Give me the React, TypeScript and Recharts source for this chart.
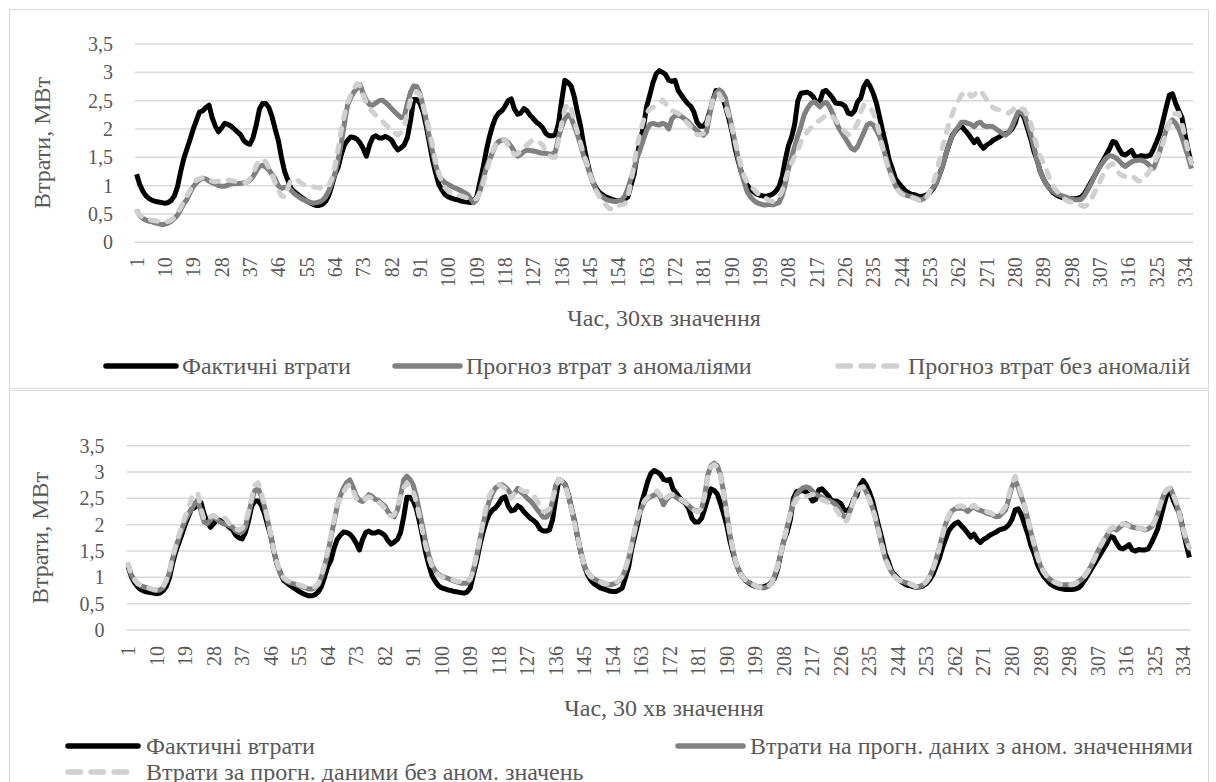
import React from 'react';
import { LineChart, Line, XAxis, YAxis, CartesianGrid } from 'recharts';

// ---------- data (MW losses, 30-minute slots) ----------
const actualLoss: number[] = [
  1.2, 1.02, 0.9, 0.82, 0.77, 0.74, 0.72, 0.71, 0.7, 0.69,
  0.7, 0.74, 0.82, 0.98, 1.25, 1.48, 1.65, 1.82, 2.0, 2.15,
  2.3, 2.32, 2.38, 2.42, 2.2, 2.05, 1.95, 2.02, 2.1, 2.08,
  2.05, 2.0, 1.95, 1.9, 1.8, 1.75, 1.73, 1.85, 2.07, 2.35,
  2.45, 2.45, 2.38, 2.22, 2.0, 1.8, 1.5, 1.25, 1.1, 0.95,
  0.9, 0.85, 0.81, 0.77, 0.73, 0.7, 0.67, 0.65, 0.65, 0.67,
  0.72, 0.82, 1.0, 1.2, 1.32, 1.55, 1.72, 1.8, 1.86, 1.85,
  1.82, 1.75, 1.65, 1.52, 1.72, 1.85, 1.88, 1.84, 1.84, 1.87,
  1.84, 1.8, 1.7, 1.63, 1.67, 1.72, 1.85, 2.15, 2.52, 2.52,
  2.45, 2.3, 2.05, 1.75, 1.45, 1.22, 1.02, 0.92, 0.84, 0.8,
  0.78, 0.76, 0.75, 0.73, 0.72, 0.71, 0.7, 0.72, 0.8, 1.05,
  1.3, 1.6, 1.85, 2.05, 2.2, 2.28, 2.32, 2.4, 2.5, 2.53,
  2.35, 2.26, 2.28, 2.36, 2.32, 2.24, 2.18, 2.12, 2.08, 2.02,
  1.92, 1.88, 1.88, 1.9, 2.1, 2.5, 2.86, 2.82, 2.76, 2.57,
  2.3, 2.05, 1.72, 1.45, 1.22, 1.05, 0.95, 0.88, 0.84, 0.8,
  0.78, 0.76, 0.74, 0.73, 0.73, 0.76, 0.8, 1.0, 1.2, 1.55,
  1.8, 2.05, 2.4, 2.6, 2.82, 2.97, 3.03, 3.0, 2.96, 2.86,
  2.84, 2.86, 2.68, 2.6, 2.52, 2.45, 2.4, 2.3, 2.12, 2.05,
  2.05, 2.12, 2.3, 2.5, 2.68, 2.65, 2.58, 2.4, 2.2, 1.98,
  1.68, 1.45, 1.25, 1.1, 1.0, 0.93, 0.89, 0.85, 0.83, 0.82,
  0.81, 0.83, 0.85, 0.9, 0.98, 1.15, 1.45, 1.7, 1.85, 2.08,
  2.5, 2.63, 2.64, 2.65, 2.62, 2.56, 2.45, 2.48, 2.66, 2.68,
  2.62, 2.55, 2.46, 2.45, 2.44, 2.4, 2.28, 2.26, 2.32, 2.48,
  2.55, 2.75, 2.84, 2.75, 2.62, 2.45, 2.2, 1.95, 1.72, 1.45,
  1.3, 1.12, 1.05, 0.98, 0.92, 0.88, 0.85, 0.84, 0.82, 0.81,
  0.82, 0.84, 0.88, 0.95, 1.05, 1.2, 1.35, 1.55, 1.72, 1.88,
  1.96, 2.02, 2.05, 1.98, 1.92, 1.84, 1.76, 1.82, 1.72, 1.66,
  1.72, 1.75, 1.8, 1.83, 1.86, 1.9, 1.92, 1.94, 2.0, 2.1,
  2.28, 2.3, 2.18, 2.0, 1.82, 1.6, 1.45, 1.25, 1.12, 1.02,
  0.95, 0.88, 0.84, 0.81, 0.79, 0.78, 0.77, 0.77, 0.77, 0.78,
  0.8, 0.86, 0.95, 1.05, 1.15, 1.25, 1.35, 1.45, 1.55, 1.65,
  1.78, 1.76, 1.65, 1.56, 1.54, 1.58, 1.62, 1.52, 1.5, 1.53,
  1.52, 1.52, 1.54, 1.65, 1.78, 1.92, 2.15, 2.38, 2.6, 2.62,
  2.45, 2.32, 2.2, 1.9, 1.62, 1.38,
];

const forecastWithAnomalies: number[] = [
  0.57, 0.47, 0.42, 0.39, 0.37, 0.36, 0.34, 0.33, 0.31, 0.32,
  0.34, 0.37, 0.42, 0.48, 0.58, 0.68, 0.76, 0.88, 0.98, 1.05,
  1.1, 1.13, 1.12, 1.08, 1.05, 1.03, 1.0, 0.99, 0.99, 1.01,
  1.03, 1.04, 1.04, 1.04, 1.05, 1.06, 1.1, 1.16, 1.26, 1.34,
  1.36, 1.33, 1.28, 1.2, 1.12, 1.0, 0.95, 0.97, 0.98, 0.92,
  0.86, 0.82, 0.78, 0.75, 0.73, 0.71, 0.69, 0.7, 0.71, 0.74,
  0.8, 0.9, 1.05, 1.22, 1.45, 1.75, 2.1, 2.42, 2.55, 2.65,
  2.72, 2.78, 2.62, 2.5, 2.43, 2.42, 2.46, 2.5, 2.51, 2.47,
  2.42, 2.36, 2.3, 2.25, 2.2, 2.22, 2.45, 2.65, 2.76, 2.75,
  2.62, 2.4, 2.15, 1.85, 1.6, 1.35, 1.18, 1.1, 1.05, 1.02,
  0.99, 0.96, 0.94, 0.91, 0.88, 0.85, 0.78, 0.7, 0.75, 0.9,
  1.1, 1.3, 1.45, 1.58, 1.72, 1.78, 1.8, 1.81, 1.76, 1.69,
  1.6, 1.52, 1.55, 1.6, 1.63, 1.62, 1.61, 1.6, 1.58, 1.57,
  1.57, 1.56, 1.55, 1.6, 1.85, 2.04, 2.18, 2.25, 2.2, 2.05,
  1.9, 1.72, 1.52, 1.38, 1.2, 1.05, 0.92, 0.84, 0.8, 0.76,
  0.74, 0.73, 0.72, 0.72, 0.75, 0.81, 0.95, 1.12, 1.3, 1.5,
  1.65, 1.82, 1.98, 2.08, 2.1, 2.08, 2.07, 2.1, 2.08, 2.0,
  2.18, 2.23, 2.25, 2.22, 2.18, 2.14, 2.08, 2.02, 1.97, 1.92,
  1.89, 1.95, 2.25, 2.5, 2.63, 2.69, 2.65, 2.55, 2.3, 2.05,
  1.78, 1.5, 1.25, 1.05, 0.88, 0.8, 0.74, 0.7, 0.68, 0.66,
  0.66, 0.67, 0.66, 0.68, 0.7, 0.82, 1.02, 1.3, 1.5, 1.69,
  1.88, 2.05, 2.25, 2.36, 2.44, 2.48, 2.45, 2.39, 2.45, 2.47,
  2.4, 2.28, 2.14, 2.02, 1.93, 1.84, 1.75, 1.66, 1.63, 1.69,
  1.82, 1.94, 2.07, 2.1, 2.07, 1.97, 1.86, 1.68, 1.5, 1.3,
  1.15, 1.0, 0.93, 0.87, 0.84, 0.82, 0.81, 0.79, 0.77, 0.75,
  0.77, 0.82, 0.9, 0.97, 1.05, 1.2, 1.35, 1.55, 1.73, 1.86,
  1.97, 2.04, 2.12, 2.12, 2.1, 2.08, 2.04, 2.1, 2.12, 2.06,
  2.04, 2.05, 2.04, 2.0, 1.96, 1.92, 1.89, 1.94, 2.04, 2.18,
  2.3, 2.3, 2.25, 2.08, 1.9, 1.68, 1.45, 1.25, 1.12, 1.02,
  0.95, 0.9, 0.86, 0.84, 0.82, 0.8, 0.78, 0.76, 0.75, 0.75,
  0.76, 0.82, 0.92, 1.02, 1.14, 1.25, 1.34, 1.42, 1.49, 1.53,
  1.52, 1.49, 1.44, 1.38, 1.34, 1.38, 1.42, 1.44, 1.45, 1.45,
  1.43, 1.39, 1.34, 1.31, 1.45, 1.62, 1.8, 1.98, 2.1, 2.16,
  2.1, 2.0, 1.85, 1.68, 1.5, 1.3,
];

const forecastWithoutAnomalies: number[] = [
  0.55, 0.48, 0.44, 0.41, 0.4, 0.39, 0.38, 0.37, 0.36, 0.36,
  0.37, 0.39, 0.44, 0.52, 0.62, 0.72, 0.82, 0.92, 1.02, 1.1,
  1.12, 1.14, 1.12, 1.1, 1.08, 1.07, 1.08, 1.1, 1.11, 1.1,
  1.09, 1.08, 1.07, 1.06, 1.05, 1.06, 1.12, 1.22, 1.35, 1.45,
  1.47, 1.42, 1.32, 1.2, 1.05, 0.92, 0.82, 0.8, 0.95, 1.1,
  1.12, 1.1, 1.06, 1.02, 1.0, 0.99, 0.98, 0.97, 0.96, 0.95,
  0.96, 1.0, 1.12, 1.35, 1.65, 1.98, 2.25, 2.45, 2.6, 2.72,
  2.8, 2.76, 2.6, 2.45, 2.36, 2.3, 2.24, 2.18, 2.14, 2.08,
  2.03, 1.98, 1.93, 1.89, 1.94, 2.04, 2.28, 2.5, 2.62, 2.66,
  2.6, 2.42, 2.2, 1.98, 1.7, 1.42, 1.22, 1.06, 0.96, 0.9,
  0.87, 0.85, 0.83, 0.82, 0.8, 0.78, 0.76, 0.75, 0.77, 0.88,
  1.04, 1.22, 1.42, 1.6, 1.72, 1.78, 1.8, 1.81, 1.72, 1.62,
  1.55, 1.56, 1.62, 1.68, 1.72, 1.77, 1.81, 1.8, 1.76, 1.72,
  1.58, 1.53, 1.5, 1.5, 1.8, 2.1, 2.35, 2.45, 2.35, 2.15,
  1.95, 1.75, 1.55, 1.4, 1.2, 1.05, 0.9, 0.8, 0.72, 0.66,
  0.6, 0.58, 0.6, 0.65, 0.66, 0.67, 0.8, 1.05, 1.4, 1.72,
  1.95, 2.16, 2.28, 2.36, 2.38, 2.42, 2.45, 2.51, 2.45, 2.36,
  2.32, 2.3, 2.28, 2.22, 2.16, 2.1, 2.04, 1.98, 1.9, 1.9,
  1.92, 2.05, 2.3, 2.5, 2.6, 2.62, 2.52, 2.42, 2.25, 2.04,
  1.8, 1.57, 1.35, 1.16, 1.05, 0.98, 0.94, 0.88, 0.82, 0.8,
  0.77, 0.74, 0.72, 0.74, 0.8, 0.9, 1.1, 1.28, 1.4, 1.51,
  1.62, 1.78, 1.88, 1.95, 2.01, 2.06, 2.12, 2.16, 2.2, 2.24,
  2.25, 2.22, 2.16, 2.08, 2.01, 1.95, 1.9, 1.92, 2.0, 2.1,
  2.3, 2.42, 2.42, 2.39, 2.28, 2.13, 1.9, 1.65, 1.45, 1.25,
  1.12, 0.98, 0.9, 0.85, 0.82, 0.8, 0.79, 0.78, 0.75, 0.72,
  0.74, 0.8, 0.9, 1.05, 1.22, 1.45, 1.69, 1.9, 2.1, 2.25,
  2.4, 2.5, 2.6, 2.66, 2.65, 2.58, 2.6, 2.66, 2.68, 2.6,
  2.52, 2.42, 2.38, 2.35, 2.34, 2.32, 2.3, 2.28, 2.32, 2.38,
  2.4, 2.36, 2.34, 2.22, 2.1, 1.88, 1.69, 1.52, 1.4, 1.28,
  1.12, 1.0, 0.92, 0.86, 0.8, 0.75, 0.72, 0.71, 0.7, 0.68,
  0.65, 0.63, 0.66, 0.75, 0.85, 0.96, 1.08, 1.2, 1.3, 1.36,
  1.39, 1.3, 1.22, 1.18, 1.16, 1.16, 1.17, 1.14, 1.08, 1.08,
  1.14, 1.2, 1.28, 1.38, 1.5, 1.6, 1.75, 1.92, 2.1, 2.25,
  2.27, 2.28, 2.1, 1.85, 1.6, 1.4,
];

const lossOnAnomalyForecast: number[] = [
  1.25, 1.05, 0.95, 0.88, 0.84, 0.82, 0.8, 0.78, 0.76, 0.75,
  0.76, 0.8, 0.92, 1.08, 1.35, 1.55, 1.75, 1.92, 2.08, 2.2,
  2.3, 2.4, 2.47, 2.25, 2.05, 2.02, 2.1, 2.15, 2.1, 2.05,
  2.02, 2.0, 1.98, 1.95, 1.88, 1.85, 1.86, 1.95, 2.2, 2.45,
  2.65, 2.69, 2.55, 2.35, 2.1, 1.8, 1.5, 1.25, 1.08, 0.98,
  0.93, 0.9, 0.88, 0.86, 0.84, 0.82, 0.8, 0.78, 0.78, 0.8,
  0.86, 1.0, 1.2, 1.45, 1.75, 2.05, 2.35, 2.55, 2.7, 2.8,
  2.85, 2.72, 2.55, 2.47, 2.44, 2.5, 2.57, 2.54, 2.48, 2.46,
  2.4, 2.36, 2.25, 2.18, 2.15, 2.28, 2.55, 2.85, 2.92, 2.86,
  2.75, 2.53, 2.25, 1.95, 1.65, 1.4, 1.22, 1.12, 1.06, 1.02,
  1.0, 0.98, 0.95, 0.93, 0.91, 0.89, 0.89, 0.89, 0.95, 1.14,
  1.4, 1.7, 2.0, 2.25, 2.45, 2.6, 2.7, 2.74, 2.76, 2.72,
  2.66, 2.56, 2.6, 2.69, 2.62, 2.57, 2.5, 2.45, 2.38, 2.3,
  2.22, 2.14, 2.14, 2.22, 2.45, 2.75, 2.85, 2.82, 2.76, 2.55,
  2.3, 2.03, 1.75, 1.45, 1.22, 1.1, 1.02, 0.97, 0.94, 0.92,
  0.9, 0.87, 0.86, 0.87, 0.89, 0.94, 1.01, 1.15, 1.35, 1.62,
  1.9, 2.15, 2.3, 2.44, 2.5, 2.53, 2.56, 2.6, 2.52, 2.38,
  2.48, 2.54, 2.57, 2.52, 2.48, 2.45, 2.42, 2.36, 2.3, 2.27,
  2.25, 2.3, 2.55, 2.95, 3.12, 3.17, 3.12, 2.95, 2.6, 2.2,
  1.8, 1.5, 1.25, 1.1, 1.0, 0.94, 0.9, 0.87, 0.84, 0.82,
  0.8, 0.8, 0.83, 0.88, 1.02, 1.2, 1.45, 1.7, 1.95, 2.2,
  2.42, 2.57, 2.65, 2.7, 2.72, 2.7, 2.64, 2.58, 2.55, 2.52,
  2.48, 2.46, 2.44, 2.4, 2.34, 2.25, 2.15, 2.15, 2.28, 2.45,
  2.63, 2.7, 2.72, 2.63, 2.48, 2.32, 2.1, 1.85, 1.6, 1.36,
  1.22, 1.1, 1.02, 0.96, 0.93, 0.91, 0.89, 0.87, 0.84, 0.82,
  0.83, 0.86, 0.92, 1.01, 1.15, 1.33, 1.55, 1.78, 2.0, 2.15,
  2.26, 2.3, 2.31, 2.31, 2.3, 2.25, 2.3, 2.34, 2.29, 2.27,
  2.25, 2.22, 2.2, 2.18, 2.15, 2.16, 2.22, 2.28, 2.5, 2.72,
  2.85, 2.7, 2.52, 2.34, 2.1, 1.85, 1.62, 1.4, 1.22, 1.1,
  1.02, 0.96, 0.92, 0.89, 0.87, 0.86, 0.86, 0.86, 0.86, 0.88,
  0.92, 0.96, 1.03, 1.12, 1.22, 1.35, 1.48, 1.6, 1.7, 1.8,
  1.9, 1.93, 1.9, 1.95, 2.0, 2.02, 1.98, 1.95, 1.94, 1.93,
  1.92, 1.9, 1.92, 1.96, 2.05, 2.2, 2.4, 2.58, 2.66, 2.69,
  2.55, 2.38, 2.15, 1.9, 1.7, 1.55,
];

const lossOnCleanForecast: number[] = [
  1.25, 1.05, 0.96, 0.88, 0.85, 0.83, 0.81, 0.79, 0.77, 0.76,
  0.77, 0.82, 0.94, 1.1, 1.38, 1.6, 1.8, 1.98, 2.15, 2.3,
  2.5, 2.6, 2.6, 2.3, 2.1, 2.08, 2.15, 2.18, 2.14, 2.18,
  2.15, 2.1, 2.02, 1.98, 1.92, 1.9, 1.93, 2.02, 2.25, 2.5,
  2.75, 2.8, 2.62, 2.4, 2.12, 1.82, 1.52, 1.28, 1.1, 1.0,
  0.95, 0.92, 0.9, 0.88, 0.86, 0.84, 0.82, 0.8, 0.8, 0.82,
  0.88, 1.03, 1.25, 1.5, 1.8, 2.1, 2.38, 2.5, 2.62, 2.72,
  2.76, 2.65, 2.5, 2.46, 2.44, 2.5, 2.53, 2.5, 2.44, 2.43,
  2.38, 2.31, 2.2, 2.16, 2.19, 2.35, 2.53, 2.7, 2.79, 2.72,
  2.63, 2.42, 2.15, 1.85, 1.58, 1.36, 1.2, 1.1, 1.04, 1.01,
  0.99, 0.98, 0.96, 0.94, 0.92, 0.92, 0.92, 0.92, 0.98, 1.14,
  1.42, 1.71, 2.05, 2.34, 2.55, 2.66, 2.72, 2.76, 2.73, 2.69,
  2.6, 2.5, 2.6, 2.69, 2.66, 2.63, 2.63, 2.62, 2.55, 2.47,
  2.36, 2.25, 2.26, 2.3, 2.5, 2.7, 2.86, 2.82, 2.75, 2.52,
  2.28, 2.0, 1.72, 1.45, 1.22, 1.1, 1.02, 0.97, 0.94, 0.92,
  0.9, 0.88, 0.87, 0.88, 0.9, 0.95, 1.03, 1.18, 1.38, 1.65,
  1.92, 2.16, 2.32, 2.45, 2.52, 2.56, 2.6, 2.64, 2.56, 2.45,
  2.52, 2.56, 2.57, 2.54, 2.5, 2.46, 2.42, 2.36, 2.3, 2.26,
  2.25, 2.3, 2.55, 2.92, 3.1, 3.14, 3.1, 2.93, 2.58, 2.2,
  1.8, 1.5, 1.26, 1.1, 1.0, 0.94, 0.9, 0.87, 0.84, 0.82,
  0.8, 0.8, 0.83, 0.88, 1.02, 1.2, 1.45, 1.7, 1.95, 2.2,
  2.38, 2.48, 2.53, 2.55, 2.54, 2.55, 2.58, 2.55, 2.5, 2.48,
  2.45, 2.42, 2.38, 2.32, 2.25, 2.15, 2.06, 2.08, 2.25, 2.45,
  2.62, 2.7, 2.72, 2.63, 2.48, 2.32, 2.1, 1.85, 1.6, 1.36,
  1.22, 1.1, 1.02, 0.96, 0.93, 0.91, 0.89, 0.87, 0.84, 0.82,
  0.83, 0.86, 0.92, 1.01, 1.15, 1.33, 1.55, 1.8, 2.02, 2.18,
  2.28, 2.33, 2.35, 2.36, 2.33, 2.28, 2.33, 2.37, 2.32, 2.3,
  2.28, 2.25, 2.23, 2.2, 2.18, 2.2, 2.26, 2.35, 2.55, 2.78,
  2.92, 2.76, 2.56, 2.36, 2.1, 1.85, 1.62, 1.4, 1.22, 1.1,
  1.02, 0.96, 0.92, 0.89, 0.87, 0.86, 0.86, 0.86, 0.86, 0.88,
  0.92, 0.96, 1.03, 1.12, 1.22, 1.35, 1.48, 1.6, 1.72, 1.82,
  1.92, 1.95, 1.92, 1.98, 2.02, 2.0, 1.97, 1.95, 1.95, 1.93,
  1.92, 1.91, 1.93, 1.97, 2.06, 2.22, 2.42, 2.6, 2.68, 2.7,
  2.56, 2.4, 2.18, 1.92, 1.72, 1.56,
];

const slotLabels: string[] = actualLoss.map((_, i) => String(i + 1));
const yTicks: number[] = [0, 0.5, 1, 1.5, 2, 2.5, 3, 3.5];

const topData = slotLabels.map((slot, i) => ({
  slot,
  actual: actualLoss[i],
  anom: forecastWithAnomalies[i],
  clean: forecastWithoutAnomalies[i],
}));
const bottomData = slotLabels.map((slot, i) => ({
  slot,
  actual: actualLoss[i],
  anom: lossOnAnomalyForecast[i],
  clean: lossOnCleanForecast[i],
}));

// ---------- styles ----------
const FONT = '"Liberation Serif", "Times New Roman", Times, "DejaVu Serif", "Nimbus Roman", FreeSerif, serif';
const TEXT = '#595959';
const GRID = '#d9d9d9';
const C_ACTUAL = '#000000';
const C_ANOM = '#808080';
const C_CLEAN = '#d0d0d0';
const LW = 5;
const DASH = '7 10';

const fmt = (v: number) => String(v).replace('.', ',');

const XTick = (props: any) => {
  const { x, y, payload } = props;
  return (
    <text
      x={x}
      y={y}
      transform={`rotate(-90, ${x}, ${y})`}
      textAnchor="end"
      dominantBaseline="central"
      fontSize={20}
      fontFamily={FONT}
      fill={TEXT}
    >
      {payload.value}
    </text>
  );
};

const Panel = ({ data, yAxisWidth, margin }: any) => (
  <LineChart width={1216} height={margin.h} data={data} margin={{ top: margin.top, right: margin.right, bottom: margin.bottom, left: 0 }}>
    <CartesianGrid vertical={false} stroke={GRID} strokeWidth={1.5} />
    <XAxis
      dataKey="slot"
      interval={8}
      axisLine={false}
      tickLine={false}
      tickSize={0}
      tickMargin={margin.xTickGap}
      height={30}
      padding={{ left: 1.6, right: 1.6 }}
      tick={<XTick />}
    />
    <YAxis
      domain={[0, 3.5]}
      ticks={yTicks}
      interval={0}
      width={yAxisWidth}
      axisLine={false}
      tickLine={false}
      tickSize={0}
      tickMargin={22}
      tickFormatter={fmt}
      tick={{ fontSize: 20, fill: TEXT, fontFamily: FONT }}
    />
    <Line type="linear" dataKey="actual" stroke={C_ACTUAL} strokeWidth={LW} dot={false} isAnimationActive={false} strokeLinejoin="round" />
    <Line type="linear" dataKey="anom" stroke={C_ANOM} strokeWidth={LW} dot={false} isAnimationActive={false} strokeLinejoin="round" />
    <Line type="linear" dataKey="clean" stroke={C_CLEAN} strokeWidth={LW} strokeDasharray={DASH} strokeLinecap="round" dot={false} isAnimationActive={false} strokeLinejoin="round" />
  </LineChart>
);

const LegendItem = ({ x, y, x2, color, dashed, label, textX }: any) => (
  <>
    <svg style={{ position: 'absolute', left: x - 4, top: y - 6, overflow: 'visible' }} width={x2 - x + 8} height={12}>
      <line
        x1={4}
        y1={6}
        x2={x2 - x + 4}
        y2={6}
        stroke={color}
        strokeWidth={5.5}
        strokeLinecap="round"
        strokeDasharray={dashed ? '12.5 10.5' : undefined}
      />
    </svg>
    <div style={{ position: 'absolute', left: textX, top: y, transform: 'translateY(-50%)', fontSize: 24, color: TEXT, whiteSpace: 'nowrap', lineHeight: 1 }}>
      {label}
    </div>
  </>
);

const Title = ({ cx, cy, text, rotate }: any) => (
  <div
    style={{
      position: 'absolute',
      left: cx,
      top: cy,
      transform: `translate(-50%, -50%)${rotate ? ' rotate(-90deg)' : ''}`,
      fontSize: 24,
      color: TEXT,
      whiteSpace: 'nowrap',
      lineHeight: 1,
    }}
  >
    {text}
  </div>
);

export default function App() {
  return (
    <div style={{ position: 'absolute', left: 0, top: 0, width: 1216, height: 782, background: '#fff', overflow: 'hidden', fontFamily: FONT }}>
      <div style={{ position: 'absolute', left: 9, top: 9, width: 1198, height: 378, border: `1px solid ${GRID}` }} />
      <div style={{ position: 'absolute', left: 9, top: 390, width: 1198, height: 400, border: `1px solid ${GRID}` }} />

      <div style={{ position: 'absolute', left: 0, top: 0 }}>
        <Panel data={topData} yAxisWidth={135} margin={{ h: 390, top: 44, right: 23, bottom: 117.7, xTickGap: 15 }} />
      </div>
      <div style={{ position: 'absolute', left: 0, top: 390 }}>
        <Panel data={bottomData} yAxisWidth={126.5} margin={{ h: 392, top: 55.7, right: 25, bottom: 122, xTickGap: 16 }} />
      </div>

      <Title cx={42} cy={143} text="Втрати, МВт" rotate />
      <Title cx={664} cy={318} text="Час, 30хв значення" />
      <Title cx={40} cy={538} text="Втрати, МВт" rotate />
      <Title cx={664} cy={708} text="Час, 30 хв значення" />

      <LegendItem x={106} x2={176} y={366} color={C_ACTUAL} label="Фактичні втрати" textX={182} />
      <LegendItem x={395} x2={460} y={366} color={C_ANOM} label="Прогноз втрат з аномаліями" textX={466} />
      <LegendItem x={838} x2={903} y={366} color={C_CLEAN} dashed label="Прогноз втрат без аномалій" textX={908} />

      <LegendItem x={68} x2={138} y={746} color={C_ACTUAL} label="Фактичні втрати" textX={146} />
      <LegendItem x={678} x2={743} y={746} color={C_ANOM} label="Втрати на прогн. даних з аном. значеннями" textX={750} />
      <LegendItem x={68} x2={133} y={772} color={C_CLEAN} dashed label="Втрати за прогн. даними без аном. значень" textX={146} />
    </div>
  );
}
